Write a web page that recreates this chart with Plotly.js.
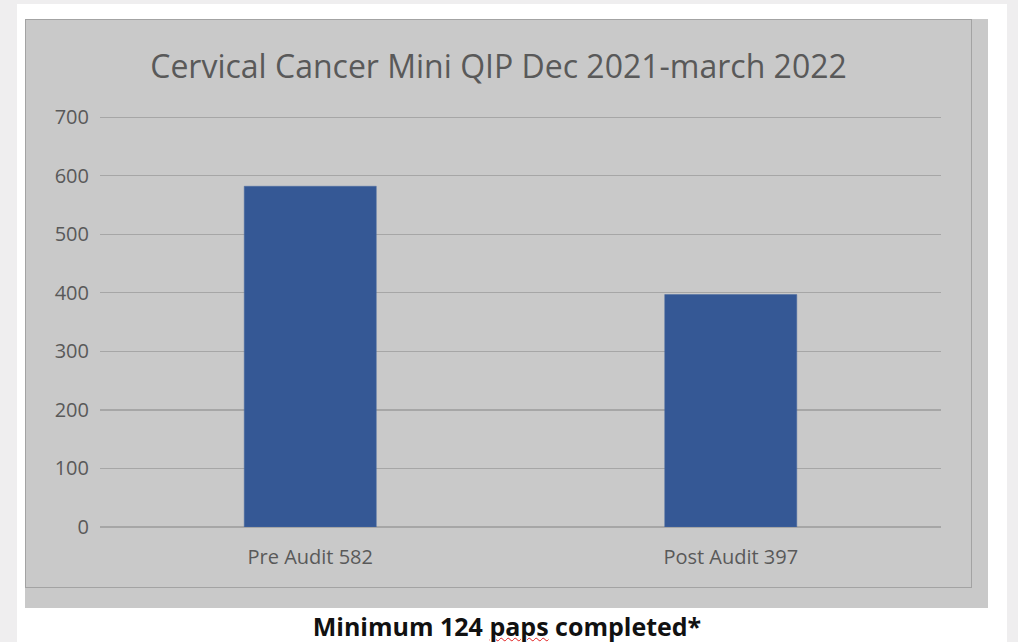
<!DOCTYPE html>
<html>
<head>
<meta charset="utf-8">
<script src="https://cdn.plot.ly/plotly-3.0.1.min.js"></script>
<style>
  html, body { margin: 0; padding: 0; width: 1018px; height: 642px; overflow: hidden; background: #efeeef; }
  #page { position: absolute; left: 17px; top: 4px; width: 990px; height: 638px; background: #ffffff; }
  #grayback { position: absolute; left: 25px; top: 19px; width: 963px; height: 589px; background: #c9c9c9; }
  #chart { position: absolute; left: 25px; top: 19px; width: 947px; height: 569px; }
  #frame { position: absolute; left: 25px; top: 19px; width: 945px; height: 567px; border: 1px solid #a3a3a3; pointer-events: none; z-index: 10; }
  #caption { position: absolute; left: 0; width: 1014px; top: 609px; text-align: center; font-family: "Open Sans", sans-serif; font-weight: bold; font-size: 25px; line-height: 34px; color: #111111; white-space: nowrap; }
  #caption .sp { text-decoration: underline wavy #e02020; text-decoration-thickness: 1px; text-underline-offset: 1px; }
</style>
</head>
<body>
<div id="page"></div>
<div id="grayback"></div>
<div id="chart"></div>
<div id="frame"></div>
<div id="caption">Minimum 124 <span class="sp">paps</span> completed*</div>
<script>
const categories = ["Pre Audit 582", "Post Audit 397"];
const values = [582, 397];
const yTicks = [0, 100, 200, 300, 400, 500, 600, 700];
const chartTitle = "Cervical Cancer Mini QIP Dec 2021-march 2022";

const trace = {
  type: "bar",
  x: categories,
  y: values,
  marker: { color: "#355895", line: { color: "#4a6aa0", width: 0.5 } },
  hoverinfo: "x+y"
};

const layout = {
  width: 947,
  height: 569,
  margin: { l: 75, r: 31, t: 97, b: 61 },
  paper_bgcolor: "#c9c9c9",
  plot_bgcolor: "#c9c9c9",
  showlegend: false,
  bargap: 0.686,
  font: { family: "Open Sans, sans-serif", color: "#595959" },
  title: {
    text: chartTitle,
    font: { size: 32, color: "#595959", family: "Open Sans, sans-serif" },
    x: 0.5, xref: "container", xanchor: "center",
    y: 0.9156, yref: "container", yanchor: "middle"
  },
  xaxis: {
    type: "category",
    showgrid: false,
    showline: false,
    zeroline: false,
    ticks: "",
    ticklabelstandoff: 16,
    tickfont: { size: 20, color: "#595959" }
  },
  yaxis: {
    range: [0, 702],
    tickvals: yTicks,
    ticktext: yTicks.map(String),
    showgrid: true,
    gridcolor: "#a6a6a6",
    gridwidth: 1.3,
    zeroline: true,
    zerolinecolor: "#a6a6a6",
    zerolinewidth: 1.3,
    showline: false,
    ticks: "",
    ticklabelstandoff: 10,
    tickfont: { size: 20, color: "#595959" }
  }
};

Plotly.newPlot("chart", [trace], layout, { displayModeBar: false, staticPlot: true });
</script>
</body>
</html>
